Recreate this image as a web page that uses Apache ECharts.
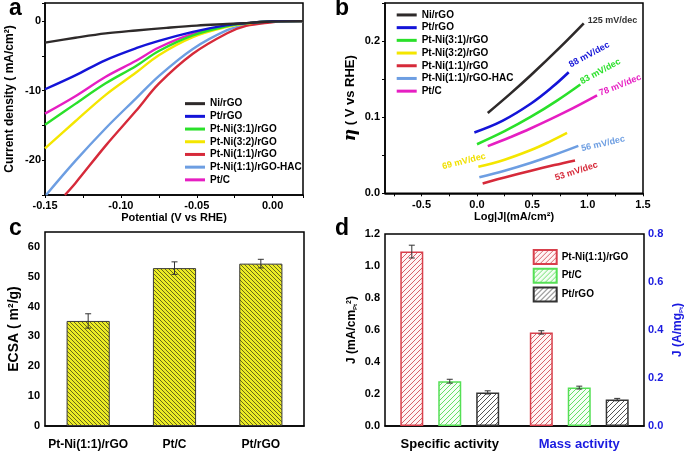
<!DOCTYPE html>
<html><head><meta charset="utf-8">
<script src="https://cdn.jsdelivr.net/npm/echarts@6/dist/echarts.min.js"></script>
<style>html,body{margin:0;padding:0;background:#fff}#c{width:685px;height:453px}</style>
</head><body><div id="c"></div>
<script>
// ---------- Panel a: polarization curves [potential (V vs RHE), current density (mA/cm2)]
const lsvNi = [[-0.15,-3.1],[-0.13,-2.4],[-0.11,-1.77],[-0.09,-1.35],[-0.07,-0.98],[-0.05,-0.65],[-0.03,-0.42],[-0.015,-0.25],[0,-0.05],[0.02,0]];
const lsvPtRGO = [[-0.15,-9.8],[-0.13,-7.8],[-0.11,-5.6],[-0.09,-3.9],[-0.075,-2.85],[-0.0526,-1.55],[-0.03,-0.58],[-0.017,-0.3],[0,-0.03],[0.02,0]];
const lsvPtNi31 = [[-0.15,-14.9],[-0.13,-11.9],[-0.11,-8.95],[-0.09,-6.45],[-0.075,-4.3],[-0.0526,-2.05],[-0.03,-0.72],[-0.017,-0.3],[0,-0.03],[0.02,0]];
const lsvPtNi32 = [[-0.15,-18.3],[-0.13,-14.4],[-0.11,-10.6],[-0.09,-7.4],[-0.075,-4.9],[-0.0526,-2.3],[-0.03,-0.82],[-0.017,-0.35],[0,-0.03],[0.02,0]];
const lsvPtNi11 = [[-0.1369,-25],[-0.13,-23.3],[-0.11,-17.9],[-0.09,-12.9],[-0.075,-9.0],[-0.0526,-4.7],[-0.03,-1.75],[-0.0175,-0.7],[-0.002,-0.2],[0.01,0],[0.02,0]];
const lsvPtNi11HAC = [[-0.1493,-25],[-0.13,-20.1],[-0.11,-15.4],[-0.09,-11.1],[-0.075,-7.9],[-0.0526,-4.0],[-0.03,-1.3],[-0.0175,-0.55],[-0.009,-0.25],[0,-0.05],[0.02,0]];
const lsvPtC = [[-0.15,-13.3],[-0.13,-10.8],[-0.11,-8.0],[-0.09,-5.7],[-0.075,-3.8],[-0.0526,-1.85],[-0.03,-0.67],[-0.017,-0.3],[0,-0.03],[0.02,0]];

// ---------- Panel b: Tafel plots [log|J|, overpotential (V)]
const tafelNi = [[0.098,0.1055],[0.3,0.1306],[0.489,0.1554],[0.75,0.1917],[0.965,0.2233]];
const tafelPtRGO = [[-0.023,0.080],[0.23,0.0952],[0.489,0.118],[0.68,0.1395],[0.829,0.159]];
const tafelPtNi31 = [[0.001,0.0645],[0.25,0.0816],[0.489,0.1006],[0.72,0.1215],[0.934,0.143]];
const tafelPtNi32 = [[0.013,0.0348],[0.25,0.0442],[0.489,0.0569],[0.65,0.0673],[0.814,0.0793]];
const tafelPtNi11 = [[0.052,0.013],[0.25,0.0208],[0.489,0.0297],[0.7,0.0371],[0.886,0.0432]];
const tafelPtNi11HAC = [[0.022,0.021],[0.25,0.0297],[0.489,0.0402],[0.7,0.0506],[0.916,0.0623]];
const tafelPtC = [[0.098,0.062],[0.3,0.0736],[0.489,0.0854],[0.8,0.1069],[1.085,0.1287]];

const sampleNames = ['Ni/rGO','Pt/rGO','Pt-Ni(3:1)/rGO','Pt-Ni(3:2)/rGO','Pt-Ni(1:1)/rGO','Pt-Ni(1:1)/rGO-HAC','Pt/C'];
const tafelSlopeText = ['125 mV/dec','88 mV/dec','83 mV/dec','69 mV/dec','53 mV/dec','56 mV/dec','78 mV/dec'];

// ---------- Panel c: ECSA
const ecsaCategories = ['Pt-Ni(1:1)/rGO','Pt/C','Pt/rGO'];
const ecsaValues = [35.2, 52.9, 54.4];
const ecsaErrors = [2.4, 2.1, 1.45];

// ---------- Panel d: activities
const activityCategories = ['Specific activity','Mass activity'];
const catalystNames = ['Pt-Ni(1:1)/rGO','Pt/C','Pt/rGO'];
const specificActivity = [1.09, 0.28, 0.21];
const specificError = [0.04, 0.012, 0.01];
const massActivity = [0.39, 0.16, 0.11];
const massError = [0.007, 0.006, 0.005];

// ---------- styling / layout
const lsvData = [lsvNi, lsvPtRGO, lsvPtNi31, lsvPtNi32, lsvPtNi11, lsvPtNi11HAC, lsvPtC];
const tafelData = [tafelNi, tafelPtRGO, tafelPtNi31, tafelPtNi32, tafelPtNi11, tafelPtNi11HAC, tafelPtC];
const lineColors = ['#2e2a2a','#1414d8','#2ae02a','#f4e600','#d62a3a','#6d9ee2','#e61ec2'];
const slopeColors = ['#333333','#1414d8','#2ae02a','#f0e000','#d62a3a','#6d9ee2','#e61ec2'];
const slopeAnchor = [[1.225,0.227],[1.015,0.182],[1.115,0.160],[-0.117,0.0419],[0.898,0.0288],[1.139,0.065],[1.295,0.142]];
const slopeRotate = [0,28,28,14,18,13,22];
const FF = '"Liberation Sans", Arial, Helvetica, sans-serif';
const BLUE = '#1a1ae0';
const BAR_W_D = 23, BAR_GAP_D = '65%';

function isMult(v, s){ return Math.abs(v/s - Math.round(v/s)) < 1e-6; }
function fix(v, d){ if (Math.abs(v) < 1e-9) v = 0; return v.toFixed(d); }

function hatch(bg, fg, size, dir, lw){
  const c = document.createElement('canvas'); c.width = c.height = size;
  const g = c.getContext('2d');
  g.fillStyle = bg; g.fillRect(0,0,size,size);
  g.strokeStyle = fg; g.lineWidth = lw; g.beginPath();
  if (dir === '/') {
    g.moveTo(-1,size+1); g.lineTo(size+1,-1);
    g.moveTo(-1,1); g.lineTo(1,-1);
    g.moveTo(size-1,size+1); g.lineTo(size+1,size-1);
  } else {
    g.moveTo(-1,-1); g.lineTo(size+1,size+1);
    g.moveTo(size-1,-1); g.lineTo(size+1,1);
    g.moveTo(-1,size-1); g.lineTo(1,size+1);
  }
  g.stroke();
  return {image: c, repeat: 'repeat'};
}
const ecsaFill = hatch('#ecec24', '#5a5a18', 4, '\\', 0.9);
const dFills = [hatch('#fff4f4','#d86068',5,'/',1), hatch('#f4fff4','#66dd66',5,'/',1), hatch('#ffffff','#555555',5,'/',1)];
const dBorders = ['#d8404c','#55e055','#333333'];

const tickStyle = {length:3, lineStyle:{color:'#000', width:1}};
const lineAx = {onZero:false, lineStyle:{color:'#000', width:1.5}};
const lab = (extra) => Object.assign({fontFamily:FF, fontWeight:'bold', fontSize:11, color:'#000'}, extra||{});
const nameStyle = (size, extra) => Object.assign({fontFamily:FF, fontWeight:'bold', fontSize:size, color:'#000'}, extra||{});

function errRender(count, color){
  return function(params, api){
    const cat = api.value(0), val = api.value(1), err = api.value(2), k = api.value(3);
    let off = 0;
    if (count > 1) {
      const lay = api.barLayout({count: count, barWidth: BAR_W_D, barGap: BAR_GAP_D});
      off = lay[k].offsetCenter;
    }
    const top = api.coord([cat, val + err]);
    const bot = api.coord([cat, val - err]);
    const x = top[0] + off, cap = 3;
    const st = {stroke: color, lineWidth: 1};
    return {type:'group', children:[
      {type:'line', shape:{x1:x,y1:top[1],x2:x,y2:bot[1]}, style:st},
      {type:'line', shape:{x1:x-cap,y1:top[1],x2:x+cap,y2:top[1]}, style:st},
      {type:'line', shape:{x1:x-cap,y1:bot[1],x2:x+cap,y2:bot[1]}, style:st}
    ]};
  };
}

const series = [];
sampleNames.forEach((n,i)=>{
  series.push({type:'line', name:n, xAxisIndex:0, yAxisIndex:0, data:lsvData[i], smooth:0.35,
    showSymbol:false, lineStyle:{width:2.4, color:lineColors[i]}, itemStyle:{color:lineColors[i]}, z:10-i});
});
sampleNames.forEach((n,i)=>{
  series.push({type:'line', name:n, xAxisIndex:1, yAxisIndex:1, data:tafelData[i], smooth:0.4,
    showSymbol:false, lineStyle:{width:2.6, color:lineColors[i]}, itemStyle:{color:lineColors[i]},
    markPoint:{symbol:'circle', symbolSize:0, silent:true, animation:false,
      data:[{coord:slopeAnchor[i], value:0}],
      label:{show:true, position:'inside', formatter:tafelSlopeText[i], rotate:slopeRotate[i],
        color:slopeColors[i], fontSize:9, fontWeight:'bold', fontFamily:FF}}});
});
series.push({type:'bar', name:'ECSA', xAxisIndex:2, yAxisIndex:2, data:ecsaValues, barWidth:'50%',
  itemStyle:{color:ecsaFill, borderColor:'#3a3a3a', borderWidth:1}});
series.push({type:'custom', name:'ECSA err', xAxisIndex:2, yAxisIndex:2, z:5,
  renderItem: errRender(1,'#333'),
  data: ecsaValues.map((v,i)=>[i, v, ecsaErrors[i], 0])});
catalystNames.forEach((n,i)=>{
  series.push({type:'bar', name:'d|'+n, xAxisIndex:3, yAxisIndex:3, barWidth:BAR_W_D, barGap:BAR_GAP_D,
    data:[specificActivity[i], '-'],
    itemStyle:{color:dFills[i], borderColor:dBorders[i], borderWidth:1.5}});
});
catalystNames.forEach((n,i)=>{
  series.push({type:'bar', name:'d|'+n, xAxisIndex:4, yAxisIndex:4, barWidth:BAR_W_D, barGap:BAR_GAP_D,
    data:['-', massActivity[i]],
    itemStyle:{color:dFills[i], borderColor:dBorders[i], borderWidth:1.5}});
});
series.push({type:'custom', name:'spec err', xAxisIndex:3, yAxisIndex:3, z:5,
  renderItem: errRender(3,'#333'),
  data: specificActivity.map((v,i)=>[0, v, specificError[i], i])});
series.push({type:'custom', name:'mass err', xAxisIndex:4, yAxisIndex:4, z:5,
  renderItem: errRender(3,'#333'),
  data: massActivity.map((v,i)=>[1, v, massError[i], i])});

const legendText = {fontFamily:FF, fontWeight:'bold', fontSize:10, color:'#000', lineHeight:12.7};

const option = {
  animation:false,
  backgroundColor:'#fff',
  textStyle:{fontFamily:FF},
  graphic:[
    {type:'text', left:9, top:-3, style:{text:'a', font:'bold 23px '+FF, fill:'#000'}},
    {type:'text', left:335, top:-3, style:{text:'b', font:'bold 23px '+FF, fill:'#000'}},
    {type:'text', left:9, top:217, style:{text:'c', font:'bold 23px '+FF, fill:'#000'}},
    {type:'text', left:335, top:217, style:{text:'d', font:'bold 23px '+FF, fill:'#000'}}
  ],
  legend:[
    {data:sampleNames, left:185, top:97.3, padding:0, orient:'vertical', icon:'rect', itemWidth:20, itemHeight:3,
      itemGap:0, selectedMode:false, textStyle:legendText},
    {data:sampleNames, left:396.7, top:8.6, padding:0, orient:'vertical', icon:'rect', itemWidth:20, itemHeight:3,
      itemGap:0, selectedMode:false, textStyle:legendText},
    {data:catalystNames.map(n=>'d|'+n), left:532.7, top:249, padding:0, orient:'vertical', icon:'rect',
      itemWidth:23, itemHeight:14, itemGap:2.7, selectedMode:false,
      formatter:(n)=>n.replace('d|',''), textStyle:{fontFamily:FF, fontWeight:'bold', fontSize:10, color:'#000'}}
  ],
  grid:[
    {left:45, top:3, width:258, height:192, show:true, borderColor:'#000', borderWidth:1.5},
    {left:385, top:3, width:258, height:190.3, show:true, borderColor:'#000', borderWidth:1.5},
    {left:45, top:232, width:259, height:194, show:true, borderColor:'#000', borderWidth:1.5},
    {left:385, top:234, width:259, height:192, show:true, borderColor:'#000', borderWidth:1.5}
  ],
  xAxis:[
    {type:'value', gridIndex:0, min:-0.15, max:0.02, interval:0.025, splitLine:{show:false},
      axisLine:lineAx, axisTick:tickStyle,
      axisLabel:lab({margin:5, formatter:(v)=>isMult(v,0.05)?fix(v,2):''}),
      name:'Potential (V vs RHE)', nameLocation:'middle', nameGap:17, nameTextStyle:nameStyle(11)},
    {type:'value', gridIndex:1, min:-0.83, max:1.5, splitLine:{show:false},
      axisLine:lineAx,
      axisTick:Object.assign({customValues:[-0.75,-0.5,-0.25,0,0.25,0.5,0.75,1,1.25,1.5]}, tickStyle),
      axisLabel:lab({margin:6, customValues:[-0.5,0,0.5,1,1.5], formatter:(v)=>fix(v,1)}),
      name:'Log|J|(mA/cm²)', nameLocation:'middle', nameGap:17, nameTextStyle:nameStyle(11)},
    {type:'category', gridIndex:2, data:ecsaCategories, axisLine:lineAx, axisTick:tickStyle,
      axisLabel:lab({fontSize:12, margin:13, interval:0})},
    {type:'category', gridIndex:3,
      data:[{value:activityCategories[0], textStyle:{color:'#000'}}, {value:activityCategories[1], textStyle:{color:BLUE}}],
      axisLine:lineAx, axisTick:tickStyle, axisLabel:lab({fontSize:13, margin:12, interval:0})},
    {type:'category', gridIndex:3, data:activityCategories, show:false}
  ],
  yAxis:[
    {type:'value', gridIndex:0, min:-25, max:2.6, interval:5, splitLine:{show:false},
      axisLine:lineAx, axisTick:tickStyle,
      axisLabel:lab({margin:4, formatter:(v)=>isMult(v,10)?String(Math.round(v)):''}),
      name:'Current density ( mA/cm²)', nameLocation:'middle', nameRotate:90, nameGap:29, nameTextStyle:nameStyle(12)},
    {type:'value', gridIndex:1, min:0, max:0.25, interval:0.05, splitLine:{show:false},
      axisLine:lineAx, axisTick:tickStyle,
      axisLabel:lab({margin:5, formatter:(v)=>isMult(v,0.1)?fix(v,1):''}),
      name:'{eta|η} ( V vs RHE)', nameLocation:'middle', nameRotate:90, nameGap:26,
      nameTextStyle:nameStyle(13, {rich:{eta:{fontFamily:'"DejaVu Serif", serif', fontStyle:'italic', fontWeight:'bold', fontSize:17}}})},
    {type:'value', gridIndex:2, min:0, max:65, interval:10, splitLine:{show:false},
      axisLine:lineAx, axisTick:tickStyle,
      axisLabel:lab({margin:5, showMaxLabel:false, formatter:(v)=>v<=60?String(v):''}),
      name:'ECSA ( m²/g)', nameLocation:'middle', nameRotate:90, nameGap:24, nameTextStyle:nameStyle(14)},
    {type:'value', gridIndex:3, min:0, max:1.2, interval:0.1, splitLine:{show:false},
      axisLine:lineAx, axisTick:tickStyle,
      axisLabel:lab({margin:5, formatter:(v)=>isMult(v,0.2)?fix(v,1):''}),
      name:'J (mA/cm{sub|Pt}{sup|2})', nameLocation:'middle', nameRotate:90, nameGap:27,
      nameTextStyle:nameStyle(12, {rich:{sub:{fontSize:6, fontWeight:'bold', verticalAlign:'bottom', fontFamily:FF}, sup:{fontSize:7, fontWeight:'bold', verticalAlign:'top', fontFamily:FF}}})},
    {type:'value', gridIndex:3, position:'right', min:0, max:0.8, interval:0.1, splitLine:{show:false},
      axisLine:{onZero:false, lineStyle:{color:BLUE, width:2}}, axisTick:{inside:true, length:3, lineStyle:{color:BLUE, width:1}},
      axisLabel:lab({margin:4, color:BLUE, formatter:(v)=>isMult(v,0.2)?fix(v,1):''}),
      name:'J (A/mg{sub|Pt})', nameLocation:'middle', nameRotate:90, nameGap:28,
      nameTextStyle:nameStyle(12, {color:BLUE, rich:{sub:{fontSize:6, fontWeight:'bold', color:BLUE, verticalAlign:'bottom', fontFamily:FF}}})}
  ],
  series: series
};

const chart = echarts.init(document.getElementById('c'), null, {renderer:'canvas'});
chart.setOption(option);
</script>
</body></html>
